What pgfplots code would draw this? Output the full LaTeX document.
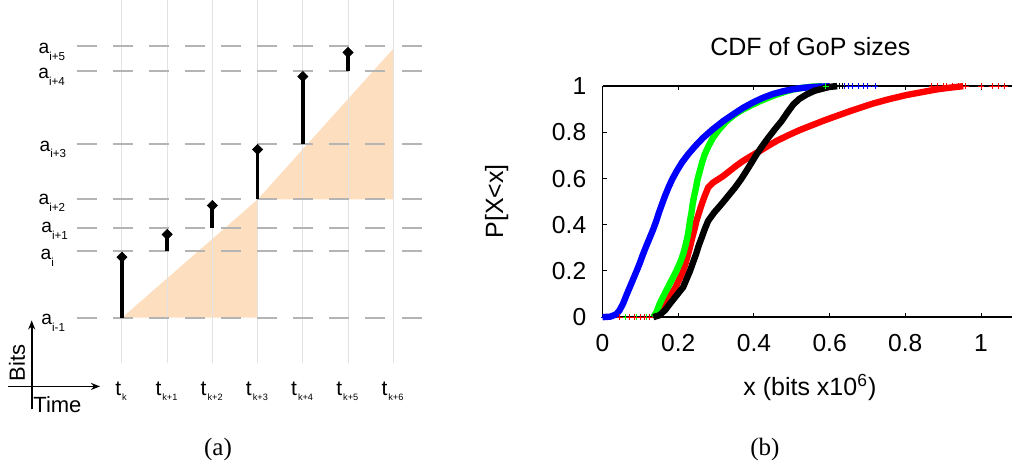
\documentclass[border=0pt]{standalone}
\usepackage{fontspec}
\setmainfont{Liberation Sans}
\newfontfamily\capfont{Liberation Serif}
\usepackage{pgfplots}
\pgfplotsset{compat=1.18}
\usetikzlibrary{arrows.meta}

\definecolor{peach}{RGB}{253,222,190}
\definecolor{dashgray}{RGB}{180,180,180}
\definecolor{vgray}{RGB}{226,226,226}

% level labels a_j and time labels t_k
\newcommand{\asub}[1]{a\raisebox{-3.3pt}{\fontsize{5.8}{6}\selectfont #1}}
\newcommand{\tsub}[1]{t\kern0.5pt\raisebox{-2.5pt}{\fontsize{4.6}{5}\selectfont #1}}

\begin{document}
\begin{tikzpicture}
\path (0pt,0pt) rectangle (506.5pt,232.5pt);

%% ---------- (a) sending schedule ----------
\begin{axis}[
    xshift=38.35pt, yshift=51pt,
    scale only axis, width=172.5pt, height=181.5pt,
    xmin=-1.002, xmax=6.628, ymin=-0.457, ymax=3.173,
    axis lines=none, clip=false,
]
% shaded budget areas
\addplot[fill=peach, draw=none] coordinates {(0,0) (3,1.183) (3,0)};
\addplot[fill=peach, draw=none] coordinates {(3,1.183) (6,2.69) (6,1.183)};
% time grid
\pgfplotsinvokeforeach{0,1,2,3,4,5,6}{
  \addplot[vgray, line width=0.5pt] coordinates {(#1,-0.457) (#1,3.173)};
}
% arrival levels
\pgfplotsinvokeforeach{0,0.666,0.90,1.183,1.736,2.47,2.713}{
  \addplot[dashgray, line width=1pt, dash pattern=on 10pt off 8.05pt]
    coordinates {(-1.002,#1) (6.628,#1)};
}
% frame arrivals
\pgfplotsset{arr/.style={black, line width=1.9pt, mark=square*, mark indices={2},
  mark size=1.8pt, mark options={rotate=45, line width=0.3pt, fill=black}}}
\addplot[arr] coordinates {(0,0) (0,0.606)};
\addplot[arr] coordinates {(1,0.666) (1,0.833)};
\addplot[arr] coordinates {(2,0.90) (2,1.123)};
\addplot[arr] coordinates {(3,1.183) (3,1.683)};
\addplot[arr] coordinates {(4,1.736) (4,2.413)};
\addplot[arr] coordinates {(5,2.47) (5,2.653)};
% Bits / Time key
\addplot[black, line width=0.9pt, -{Stealth[length=4.5pt,width=3.5pt]}]
  coordinates {(-1.997,-0.917) (-1.997,-0.027)};
\addplot[black, line width=0.9pt, -{Stealth[length=4.5pt,width=3.5pt]}]
  coordinates {(-2.521,-0.687) (-0.4865,-0.687)};
\end{axis}

%% ---------- (b) CDF of GoP sizes ----------
\begin{axis}[
    xshift=301.35pt, yshift=74.15pt,
    scale only axis, width=204.9pt, height=115.5pt,
    xmin=0, xmax=1.0827, ymin=0, ymax=1,
    axis x line=box, axis y line*=left,
    y axis line style={-},
    xtick={0,0.2,0.4,0.6,0.8,1},
    ytick={0,0.2,0.4,0.6,0.8,1},
    tick align=inside, major tick length=2pt,
    tick style={black, line width=0.5pt},
    axis line style={line width=0.7pt},
    clip=false,
    tick label style={font=\fontsize{12.3}{14}\selectfont},
    /pgf/number format/assume math mode=true,
    xticklabel style={anchor=north, inner sep=0pt, yshift=-8.3pt},
    yticklabel style={anchor=east, inner sep=0pt, xshift=-8pt},
]
\addplot[red, line width=3.2pt] coordinates {
  (0.134,0.0) (0.15,0.015) (0.166,0.058) (0.18,0.095) (0.193,0.13) (0.203,0.165)
  (0.213,0.2) (0.22,0.237) (0.226,0.273) (0.232,0.31) (0.237,0.345) (0.243,0.381)
  (0.248,0.417) (0.255,0.453) (0.262,0.489) (0.27,0.525) (0.279,0.561) (0.29,0.58)
  (0.301,0.592) (0.318,0.61) (0.336,0.633) (0.353,0.655) (0.371,0.676) (0.393,0.698)
  (0.416,0.72) (0.438,0.742) (0.46,0.763) (0.49,0.787) (0.521,0.81) (0.552,0.83)
  (0.583,0.85) (0.62,0.872) (0.663,0.897) (0.715,0.925) (0.76,0.945) (0.804,0.962)
  (0.85,0.976) (0.883,0.986) (0.92,0.994) (0.953,1.0)
};
\addplot[green, line width=3.2pt] coordinates {
  (0.134,0.0) (0.142,0.02) (0.151,0.058) (0.162,0.095) (0.173,0.13) (0.184,0.165)
  (0.195,0.2) (0.205,0.237) (0.213,0.273) (0.219,0.31) (0.224,0.345) (0.228,0.381)
  (0.231,0.417) (0.235,0.453) (0.238,0.489) (0.242,0.525) (0.247,0.561) (0.251,0.597)
  (0.257,0.633) (0.263,0.67) (0.270,0.705) (0.28,0.741) (0.292,0.777) (0.308,0.813)
  (0.328,0.849) (0.345,0.872) (0.363,0.892) (0.39,0.915) (0.416,0.935) (0.438,0.95)
  (0.46,0.964) (0.482,0.976) (0.504,0.986) (0.53,0.993) (0.555,0.998) (0.58,1.0)
};
\addplot[blue, line width=3.2pt] coordinates {
  (0.0,0.0) (0.02,0.002) (0.03,0.008) (0.037,0.014) (0.045,0.03) (0.054,0.058)
  (0.063,0.095) (0.072,0.13) (0.081,0.165) (0.090,0.2) (0.099,0.237) (0.107,0.273)
  (0.116,0.31) (0.125,0.345) (0.134,0.381) (0.142,0.417) (0.149,0.453) (0.157,0.489)
  (0.165,0.525) (0.174,0.561) (0.184,0.597) (0.196,0.633) (0.21,0.67) (0.226,0.705)
  (0.245,0.741) (0.266,0.777) (0.291,0.813) (0.319,0.849) (0.345,0.878) (0.371,0.906)
  (0.398,0.93) (0.424,0.95) (0.45,0.966) (0.477,0.978) (0.503,0.987) (0.53,0.993)
  (0.56,0.997) (0.6,1.0)
};
\addplot[black, line width=3.2pt] coordinates {
  (0.134,0.0) (0.15,0.008) (0.165,0.03) (0.178,0.058) (0.196,0.095) (0.213,0.13)
  (0.222,0.165) (0.231,0.2) (0.239,0.237) (0.247,0.273) (0.254,0.31) (0.262,0.345)
  (0.27,0.381) (0.279,0.417) (0.295,0.453) (0.314,0.489) (0.332,0.525) (0.350,0.561)
  (0.366,0.597) (0.380,0.633) (0.394,0.67) (0.407,0.705) (0.422,0.741) (0.438,0.777)
  (0.455,0.813) (0.473,0.849) (0.488,0.885) (0.504,0.921) (0.52,0.945) (0.539,0.964)
  (0.56,0.98) (0.583,0.99) (0.6,0.997) (0.62,1.0)
};
% sparse tail samples
\addplot[only marks, mark=+, mark size=1.6pt, blue, mark options={line width=0.5pt}] coordinates {
  (0.005,0) (0.015,0) (0.64,1) (0.65,1) (0.66,1) (0.675,1) (0.69,1) (0.70,1) (0.72,1)
};
\addplot[only marks, mark=+, mark size=1.6pt, green, mark options={line width=0.5pt}] coordinates {
  (0.06,0) (0.09,0) (0.115,0) (0.125,0) (0.59,1) (0.61,1)
};
\addplot[only marks, mark=+, mark size=1.6pt, red, mark options={line width=0.5pt}] coordinates {
  (0.046,0) (0.07,0) (0.085,0) (0.10,0) (0.112,0) (0.125,0)
  (0.87,1) (0.885,1) (0.90,1) (0.91,1) (0.925,1) (0.94,1) (0.96,1)
  (1.0,1) (1.03,1) (1.045,1) (1.063,1)
};
\addplot[only marks, mark=+, mark size=1.6pt, black, mark options={line width=0.5pt}] coordinates {
  (0.61,1) (0.625,1) (0.635,1)
};
\end{axis}

\begin{scope}[x=0.5pt,y=0.5pt]
\begin{scope}[every node/.style={inner sep=0pt, anchor=base west, font=\fontsize{9.6}{11}\selectfont}]
\node at (38.3,411.7) {\asub{i+5}};
\node at (38,386.7) {\asub{i+4}};
\node at (39.3,314.3) {\asub{i+3}};
\node at (38.3,261) {\asub{i+2}};
\node at (41,233) {\asub{i+1}};
\node at (40.3,205.7) {\asub{i}};
\node at (41,141) {\asub{i-1}};
\end{scope}
\begin{scope}[every node/.style={inner sep=0pt, anchor=base, font=\fontsize{10.5}{12}\selectfont}]
\node at (121,70) {\tsub{k}};
\node at (166.5,70) {\tsub{k+1}};
\node at (211.7,70) {\tsub{k+2}};
\node at (257,70) {\tsub{k+3}};
\node at (302.2,70) {\tsub{k+4}};
\node at (347.4,70) {\tsub{k+5}};
\node at (392.6,70) {\tsub{k+6}};
\end{scope}
\node[inner sep=0pt, rotate=90, anchor=base, font=\fontsize{11}{13}\selectfont] at (25,102.7) {Bits};
\node[inner sep=0pt, anchor=base west, font=\fontsize{11}{13}\selectfont] at (33,53.3) {Time};

\node[inner sep=0pt, anchor=base, font=\fontsize{12.5}{14}\selectfont] at (810.5,410) {CDF of GoP sizes};
\node[inner sep=0pt, anchor=base, font=\fontsize{12.5}{14}\selectfont] at (810,70) {x (bits x10\textsuperscript{6})};
\node[inner sep=0pt, anchor=base, rotate=90, font=\fontsize{12.5}{14}\selectfont] at (503.3,264) {P[X<x]};

\node[inner sep=0pt, anchor=base, font=\capfont\fontsize{12.5}{14}\selectfont] at (218,10) {(a)};
\node[inner sep=0pt, anchor=base, font=\capfont\fontsize{12.5}{14}\selectfont] at (765,10) {(b)};
\end{scope}
\end{tikzpicture}
\end{document}
